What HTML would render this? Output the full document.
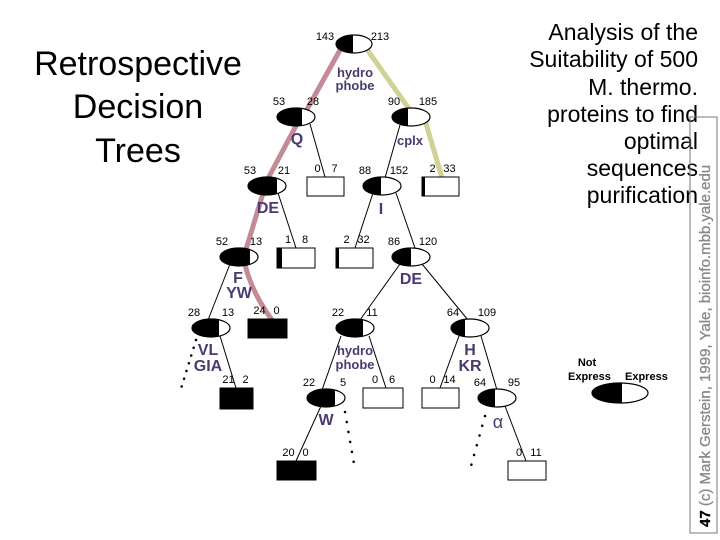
<!DOCTYPE html>
<html><head><meta charset="utf-8"><style>
body{margin:0;background:#fff;width:720px;height:540px;overflow:hidden}
svg{display:block}
</style></head><body>
<svg id="s" width="720" height="540" xmlns="http://www.w3.org/2000/svg" font-family="Liberation Sans, sans-serif">
<g font-size="34" text-anchor="middle" fill="#000">
<text x="138" y="75">Retrospective</text>
<text x="138" y="118">Decision</text>
<text x="138" y="162">Trees</text>
</g>
<g font-size="23" text-anchor="end" fill="#000">
<text x="698" y="40">Analysis of the</text>
<text x="698" y="67">Suitability of 500</text>
<text x="698" y="95">M. thermo.</text>
<text x="698" y="122">proteins to find</text>
<text x="698" y="149">optimal</text>
<text x="698" y="176">sequences</text>
<text x="698" y="203">purification</text>
</g>
<rect x="690" y="117" width="27" height="416" fill="none" stroke="#777" stroke-width="1"/>
<text transform="translate(710,527) rotate(-90)" font-size="15" fill="#888" stroke="#888" stroke-width="0.3"><tspan font-weight="bold" fill="#000" stroke="#000">47</tspan>   (c) Mark Gerstein, 1999, Yale, bioinfo.mbb.yale.edu</text>
<g font-size="11" font-weight="bold" fill="#000">
<text x="587" y="366" text-anchor="middle">Not</text>
<text x="568" y="380">Express</text>
<text x="625" y="380">Express</text>
</g>
<g id="lines" fill="none"></g>
<g id="nodes"></g>
<g id="labels" fill="#000" font-size="11" text-anchor="middle"></g>
<g fill="#4a3a70" font-weight="bold" text-anchor="middle" font-size="16">
<text x="355" y="77" font-size="13">hydro</text>
<text x="355" y="90" font-size="13">phobe</text>
<text x="297" y="144">Q</text>
<text x="410" y="145" font-size="13">cplx</text>
<text x="268" y="213">DE</text>
<text x="381" y="214">I</text>
<text x="238" y="283">F</text>
<text x="239" y="298">YW</text>
<text x="411" y="284">DE</text>
<text x="208" y="355">VL</text>
<text x="208" y="371">GIA</text>
<text x="355" y="355" font-size="13">hydro</text>
<text x="355" y="369" font-size="13">phobe</text>
<text x="470" y="355">H</text>
<text x="470" y="371">KR</text>
<text x="326" y="425">W</text>
<text x="498" y="428" font-weight="normal" font-size="18">α</text>
</g>
</svg>
<script>
var NS="http://www.w3.org/2000/svg";
function el(p,t,a){var e=document.createElementNS(NS,t);for(var k in a)e.setAttribute(k,a[k]);document.getElementById(p).appendChild(e);return e;}
function line(x1,y1,x2,y2,c,w,d){var a={x1:x1,y1:y1,x2:x2,y2:y2,stroke:c,"stroke-width":w};if(d)a["stroke-dasharray"]=d;if(d)a["stroke-linecap"]="round";el("lines","line",a);}
function node(cx,cy,sx,l,r,rx,ry){rx=rx||19;ry=ry||9;
el("nodes","ellipse",{cx:cx,cy:cy,rx:rx,ry:ry,fill:"#fff",stroke:"#000","stroke-width":1.2});
var d=sx-cx;var h=ry*Math.sqrt(Math.max(0,1-d*d/(rx*rx)));
el("nodes","path",{d:"M"+sx+","+(cy-h)+" A"+rx+","+ry+" 0 "+(d>0?1:0)+" 0 "+sx+","+(cy+h)+" Z",fill:"#000"});
if(l!=null){lab(cx-17,cy-12,l);lab(cx+17,cy-12,r);}}
function lab(x,y,t){var e=el("labels","text",{x:x,y:y});e.textContent=t;}
function box(x,y,w,h,black,sl,l,r){el("nodes","rect",{x:x,y:y,width:w,height:h,fill:black?"#000":"#fff",stroke:"#000","stroke-width":1});
if(sl)el("nodes","rect",{x:x,y:y,width:sl,height:h,fill:"#000"});
lab(x+w/2-8,y-5,l);lab(x+w/2+9,y-5,r);}
var P="#c48a96",Y="#cfd292";
line(340,50,300,122,P,5);line(297,124,264,186,P,5);line(264,190,244,256,P,5);
el("lines","path",{d:"M244,260 Q250,290 272,320",stroke:P,"stroke-width":5,fill:"none"});
line(366,48,412,113,Y,5);line(425,120,442,178,Y,5);
line(310,124,325,177,"#000",1);line(400,125,385,178,"#000",1);
line(278,193,296,248,"#000",1);line(373,193,355,248,"#000",1);line(396,193,415,248,"#000",1);
line(230,264,208,320,"#000",1);line(400,264,360,320,"#000",1);line(422,264,468,320,"#000",1);
line(220,336,236,388,"#000",1);line(341,336,322,390,"#000",1);line(369,336,386,388,"#000",1);
line(459,336,440,388,"#000",1);line(481,336,497,390,"#000",1);
line(321,406,296,461,"#000",1);line(505,406,526,461,"#000",1);
line(196,340,180,392,"#000",2.5,"0.1 8");line(345,412,354,464,"#000",2.5,"0.1 10");line(485,416,471,466,"#000",2.5,"0.1 10");
node(354,44,353,null,null,18,9);lab(325,40,"143");lab(380,40,"213");
node(296,117,302,"53","28");node(411,117,408,"90","185");
node(267,186,277,"53","21");node(382,186,381,"88","152");
node(239,257,250,"52","13");node(411,257,411,"86","120");
node(211,328,219,"28","13");node(355,328,363,"22","11");node(470,328,465,"64","109");
node(326,398,335,"22","5");node(497,398,495,"64","95");
node(620,393,622,null,null,28,10);
box(307,177,37,19,0,0,"0","7");box(422,177,37,19,0,3,"2","33");
box(277,248,38,20,0,5,"1","8");box(336,248,37,20,0,3,"2","32");
box(248,319,39,19,1,0,"24","0");box(220,388,33,21,1,0,"21","2");
box(363,388,40,20,0,0,"0","6");box(422,388,37,20,0,0,"0","14");
box(277,461,39,19,1,0,"20","0");box(508,461,38,19,0,0,"0","11");
</script>
</body></html>
